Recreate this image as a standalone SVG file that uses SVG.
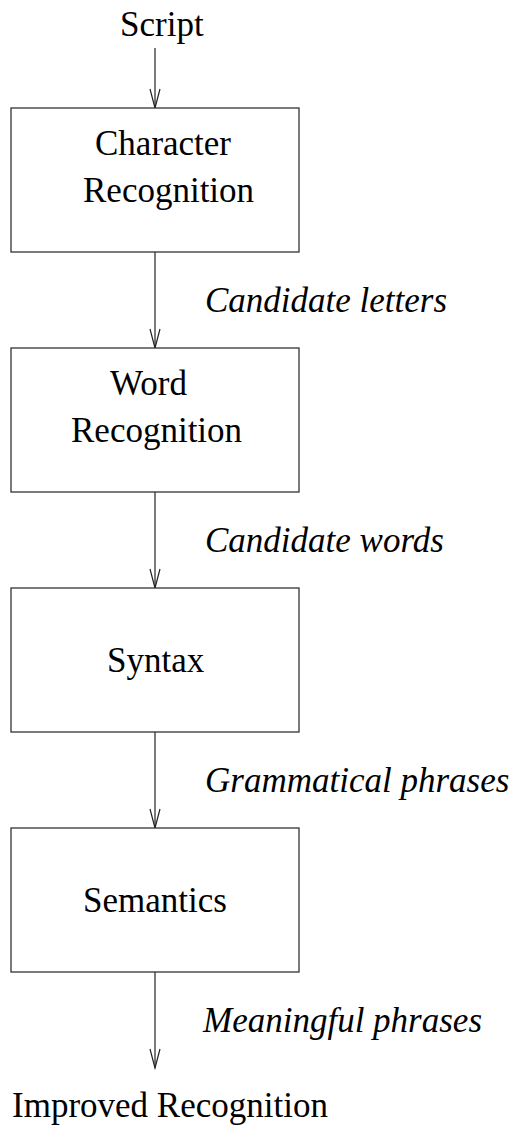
<svg xmlns="http://www.w3.org/2000/svg" width="520" height="1126" viewBox="0 0 520 1126">
<style>
.box{fill:#fff;stroke:#333;stroke-width:1.3}
.t{font-family:"Liberation Serif","Times New Roman",serif;font-size:35px;fill:#000}
.l{font-family:"Liberation Serif","Times New Roman",serif;font-size:35px;font-style:italic;fill:#000}
.c{stroke:#222;stroke-width:1.2;fill:none}
</style>
<defs>
<marker id="ah" markerWidth="22" markerHeight="12" refX="20" refY="6" orient="auto" markerUnits="userSpaceOnUse" viewBox="0 0 22 12">
<path d="M1,1 L20,6 L1,11" fill="none" stroke="#222" stroke-width="1.2"/>
</marker>
</defs>
<rect width="520" height="1126" fill="#fff"/>
<g id="connectors">
<line class="c" x1="155" y1="48" x2="155" y2="108" marker-end="url(#ah)"/>
<line class="c" x1="155" y1="252" x2="155" y2="348" marker-end="url(#ah)"/>
<line class="c" x1="155" y1="492" x2="155" y2="588" marker-end="url(#ah)"/>
<line class="c" x1="155" y1="732" x2="155" y2="828" marker-end="url(#ah)"/>
<line class="c" x1="155" y1="972" x2="155" y2="1068" marker-end="url(#ah)"/>
<text class="l" x="205" y="312">Candidate letters</text>
<text class="l" x="205" y="552">Candidate words</text>
<text class="l" x="205" y="792">Grammatical phrases</text>
<text class="l" x="203" y="1032">Meaningful phrases</text>
</g>
<g id="script"><text class="t" x="120" y="36">Script</text></g>
<g id="charrec">
<rect class="box" x="11" y="108" width="288" height="144"/>
<text class="t" x="95" y="155">Character</text>
<text class="t" x="83" y="202">Recognition</text>
</g>
<g id="wordrec">
<rect class="box" x="11" y="348" width="288" height="144"/>
<text class="t" x="110" y="395">Word</text>
<text class="t" x="71" y="442">Recognition</text>
</g>
<g id="syntax">
<rect class="box" x="11" y="588" width="288" height="144"/>
<text class="t" x="107" y="672">Syntax</text>
</g>
<g id="semantics">
<rect class="box" x="11" y="828" width="288" height="144"/>
<text class="t" x="83" y="912">Semantics</text>
</g>
<g id="improved"><text class="t" x="12" y="1117">Improved Recognition</text></g>
</svg>
